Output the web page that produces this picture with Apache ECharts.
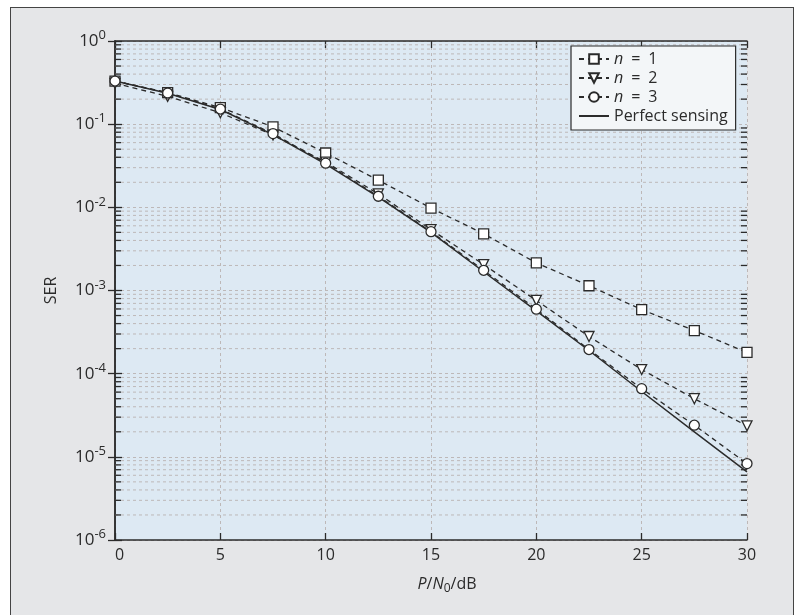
<!DOCTYPE html>
<html>
<head>
    <meta charset="UTF-8">
    <title>SER vs P/N0</title>
    <script src="https://cdn.jsdelivr.net/npm/echarts@6/dist/echarts.min.js"></script>
    <style>
        html, body { margin: 0; padding: 0; background: #ffffff; }
        .frame {
            position: absolute; left: 10px; top: 7px; width: 784px; height: 620px;
            background: #e5e6e8; border: 1.5px solid #444; box-sizing: border-box;
        }
        #chart { position: absolute; left: 0; top: 0; width: 803px; height: 615px; }
    </style>
</head>
<body>
<div class="frame"></div>
<div id="chart"></div>
<script>
    // x 轴采样点 (dB)
    var snr = [0, 2.5, 5, 7.5, 10, 12.5, 15, 17.5, 20, 22.5, 25, 27.5, 30];
    // SER 读数
    var serN1 = [0.33, 0.24, 0.158, 0.093, 0.045, 0.0212, 0.0098, 0.0048, 0.00215, 0.00114, 0.00059, 0.00033, 0.00018];
    var serN2 = [0.31, 0.216, 0.137, 0.074, 0.035, 0.0145, 0.0054, 0.00205, 0.00076, 0.00028, 0.000112, 0.00005, 0.0000236];
    var serN3 = [0.33, 0.237, 0.152, 0.077, 0.034, 0.0136, 0.0051, 0.00175, 0.000596, 0.000195, 0.000066, 0.000024, 0.0000083];
    var serPerfect = [0.33, 0.235, 0.15, 0.075, 0.033, 0.0133, 0.005, 0.00168, 0.00057, 0.00019, 0.000061, 0.00002, 0.0000066];
    var seriesNames = ['n = 1', 'n = 2', 'n = 3', 'Perfect sensing'];

    // 对数轴的次刻度 (2..9 x 10^e)
    var minorTicks = [];
    for (var e = -6; e < 0; e++) {
        for (var k = 2; k <= 9; k++) minorTicks.push([0, k * Math.pow(10, e)]);
    }

    var font = '"Open Sans", "Noto Sans", sans-serif';
    var ink = '#2b2b2b';
    var gridColor = '#bdb8b8';

    function pairs(ys) {
        return snr.map(function (x, i) { return [x, ys[i]]; });
    }

    function lineSeries(name, ys, symbol, dashed, rotate) {
        return {
            name: name,
            type: 'line',
            data: pairs(ys),
            symbol: symbol,
            symbolSize: 10,
            symbolRotate: rotate || 0,
            itemStyle: { color: '#ffffff', borderColor: ink, borderWidth: 1.3 },
            lineStyle: { color: ink, width: dashed ? 1.3 : 1.5, type: dashed ? [5, 4] : 'solid' },
            z: 3
        };
    }

    var myChart = echarts.init(document.getElementById('chart'));

    var option = {
        backgroundColor: 'transparent',
        animation: false,
        textStyle: { fontFamily: font },
        grid: {
            left: 115, right: 56, top: 41, bottom: 75,
            show: true, backgroundColor: '#dde9f3', borderWidth: 0
        },
        legend: {
            orient: 'vertical',
            left: 571, top: 46,
            padding: [4, 8, 5, 7],
            itemWidth: 30, itemHeight: 12, itemGap: 1,
            backgroundColor: '#f3f6f8',
            borderColor: ink, borderWidth: 1.2,
            data: [
                seriesNames[0], seriesNames[1], seriesNames[2],
                { name: seriesNames[3], itemStyle: { opacity: 0 } }
            ],
            textStyle: {
                fontFamily: font, fontSize: 16, color: ink, lineHeight: 18,
                rich: { i: { fontStyle: 'italic', fontSize: 16, fontFamily: font, color: ink } }
            },
            formatter: function (name) {
                if (name.charAt(0) === 'n') return '{i|n}' + name.slice(1).replace(/ = /, '\u2002=\u2002');
                return name;
            }
        },
        xAxis: [{
            type: 'value', min: 0, max: 30, interval: 5,
            name: '{i|P}/{i|N}{sub|0}/dB',
            nameLocation: 'middle', nameGap: 33,
            nameTextStyle: {
                fontSize: 16, color: ink, padding: [0, 0, 0, 32], lineHeight: 22,
                rich: {
                    i: { fontStyle: 'italic', fontSize: 16, color: ink, lineHeight: 22 },
                    sub: { fontSize: 12, color: ink, lineHeight: 10, verticalAlign: 'bottom' }
                }
            },
            axisLine: { lineStyle: { color: ink, width: 1.5 } },
            axisTick: { inside: true, length: 7, lineStyle: { color: ink, width: 1.3 } },
            axisLabel: { fontSize: 16, color: ink, margin: 7, alignMinLabel: 'left' },
            splitLine: { show: true, lineStyle: { color: gridColor, type: [3, 3], width: 1 } }
        }, {
            type: 'value', min: 0, max: 30, interval: 5, position: 'top',
            axisLine: { lineStyle: { color: ink, width: 1.5 } },
            axisTick: { inside: true, length: 7, lineStyle: { color: ink, width: 1.3 } },
            axisLabel: { show: false },
            splitLine: { show: false }
        }],
        yAxis: [{
            type: 'log', logBase: 10, min: 1e-6, max: 1, interval: 1, splitNumber: 6,
            name: 'SER', nameLocation: 'middle', nameGap: 56,
            nameTextStyle: { fontSize: 16, color: ink },
            axisLine: { lineStyle: { color: ink, width: 1.5 } },
            axisTick: { inside: true, length: 7, lineStyle: { color: ink, width: 1.3 } },
            axisLabel: {
                color: ink, margin: 9,
                formatter: function (v) {
                    var ex = Math.round(Math.log(v) / Math.LN10);
                    return '{b|10}{s|' + ex + '}';
                },
                rich: {
                    b: { fontSize: 17, color: ink, lineHeight: 24 },
                    s: { fontSize: 13, color: ink, lineHeight: 14, verticalAlign: 'top' }
                }
            },
            splitLine: { show: true, lineStyle: { color: gridColor, type: [3, 3], width: 1 } }
        }, {
            type: 'log', logBase: 10, min: 1e-6, max: 1, interval: 1, splitNumber: 6, position: 'right',
            axisLine: { lineStyle: { color: ink, width: 1.5 } },
            axisTick: { inside: true, length: 7, lineStyle: { color: ink, width: 1.3 } },
            axisLabel: { show: false },
            splitLine: { show: false }
        }],
        series: [
            {
                name: 'minor',
                type: 'custom',
                silent: true,
                z: 1,
                data: minorTicks,
                renderItem: function (params, api) {
                    var v = api.value(1);
                    var p0 = api.coord([0, v]);
                    var p1 = api.coord([30, v]);
                    return {
                        type: 'group',
                        children: [{
                            type: 'line',
                            shape: { x1: p0[0], y1: p0[1], x2: p1[0], y2: p1[1] },
                            style: { stroke: gridColor, lineWidth: 1, lineDash: [3, 3] }
                        }, {
                            type: 'line',
                            shape: { x1: p0[0], y1: p0[1], x2: p0[0] + 6, y2: p0[1] },
                            style: { stroke: ink, lineWidth: 1.3 }
                        }, {
                            type: 'line',
                            shape: { x1: p1[0] - 6, y1: p1[1], x2: p1[0], y2: p1[1] },
                            style: { stroke: ink, lineWidth: 1.3 }
                        }]
                    };
                }
            },
            lineSeries(seriesNames[0], serN1, 'rect', true),
            lineSeries(seriesNames[1], serN2, 'triangle', true, 180),
            lineSeries(seriesNames[2], serN3, 'circle', true),
            lineSeries(seriesNames[3], serPerfect, 'none', false)
        ]
    };

    myChart.setOption(option);
</script>
</body>
</html>
